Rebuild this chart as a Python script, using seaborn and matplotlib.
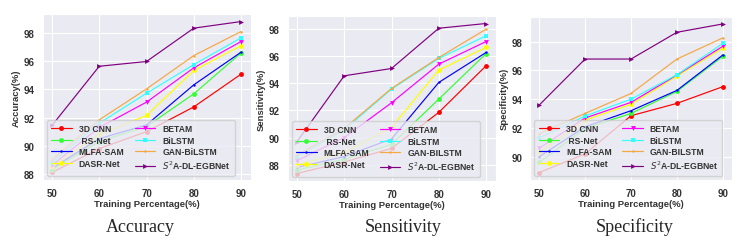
# -*- coding: utf-8 -*-
# Accuracy / Sensitivity / Specificity vs training percentage

import numpy as np
import pandas as pd
import matplotlib
matplotlib.use("Agg")
import matplotlib.pyplot as plt
import seaborn as sns

# ------------------------
# data
# ------------------------
train_pct = [50, 60, 70, 80, 90]

methods = ["3D CNN", " RS-Net", "MLFA-SAM", "DASR-Net",
           "BETAM", "BiLSTM", "GAN-BiLSTM", "$S^2$A-DL-EGBNet"]

accuracy = {
    "3D CNN":          [88.1, 89.8, 91.0, 92.76, 95.09],
    " RS-Net":         [88.3, 90.3, 91.37, 93.69, 96.60],
    "MLFA-SAM":        [88.4, 90.5, 91.48, 94.33, 96.65],
    "DASR-Net":        [88.5, 90.8, 92.15, 95.35, 97.12],
    "BETAM":           [88.6, 91.3, 93.1, 95.54, 97.41],
    "BiLSTM":          [88.8, 91.6, 93.73, 95.77, 97.67],
    "GAN-BiLSTM":      [89.0, 91.84, 94.04, 96.41, 98.12],
    "$S^2$A-DL-EGBNet": [91.44, 95.65, 95.99, 98.36, 98.83],
}

sensitivity = {
    "3D CNN":          [87.35, 88.2, 89.2, 91.86, 95.3],
    " RS-Net":         [87.6, 88.4, 89.5, 92.84, 96.2],
    "MLFA-SAM":        [87.8, 88.6, 89.9, 94.07, 96.28],
    "DASR-Net":        [88.0, 88.9, 90.75, 94.98, 96.65],
    "BETAM":           [88.3, 90.0, 92.57, 95.42, 97.09],
    "BiLSTM":          [88.6, 90.58, 93.58, 95.84, 97.51],
    "GAN-BiLSTM":      [88.7, 90.68, 93.63, 95.91, 98.0],
    "$S^2$A-DL-EGBNet": [89.7, 94.56, 95.1, 98.07, 98.42],
}

specificity = {
    "3D CNN":          [88.9, 90.2, 92.85, 93.71, 94.87],
    " RS-Net":         [89.6, 91.97, 93.01, 94.54, 96.98],
    "MLFA-SAM":        [90.0, 92.08, 93.2, 94.61, 97.07],
    "DASR-Net":        [90.3, 92.55, 93.64, 95.6, 97.56],
    "BETAM":           [90.6, 92.69, 93.78, 95.68, 97.68],
    "BiLSTM":          [91.3, 92.83, 94.0, 95.70, 97.88],
    "GAN-BiLSTM":      [91.6, 93.01, 94.4, 96.79, 98.26],
    "$S^2$A-DL-EGBNet": [93.59, 96.79, 96.79, 98.65, 99.23],
}

colors = ["#ff0000", "#33ff33", "#0000ff", "#ffff00",
          "#ff00ff", "#33ffff", "#f5a742", "#800080"]
markers = ["o", "o", ".", "o", "v", "s", ".", ">"]

panels = [
    ("Accuracy", "Accuracy(%)", accuracy, "GAN-BiLSTM"),
    ("Sensitivity", "Sensitivity(%)", sensitivity, "GAN-BILSTM"),
    ("Specificity", "Specificity(%)", specificity, "GAN-BILSTM"),
]

# axes boxes in pixels: left, right, top, bottom
boxes = [(42.5, 250.5, 15, 181), (287.5, 495.5, 17, 182), (530, 732, 17.5, 181)]
caption_x = [140, 403, 635]

# ------------------------
# plot
# ------------------------
sns.set_style("darkgrid")
plt.rcParams['font.family'] = ['Liberation Sans', 'DejaVu Sans']

W, H = 752, 253
fig = plt.figure(figsize=(W / 100, H / 100), dpi=100)

for (name, ylabel, data, gan_label), (l, r, t, b), cx in zip(panels, boxes, caption_x):
    ax = fig.add_axes([l / W, 1 - b / H, (r - l) / W, (b - t) / H])
    for m, c, mk in zip(methods, colors, markers):
        lab = gan_label if m == "GAN-BiLSTM" else m
        sns.lineplot(x=train_pct, y=data[m], ax=ax, color=c, marker=mk,
                     markersize=3.5, markeredgewidth=0, linewidth=0.85, label=lab)
    ax.set_xticks([50, 60, 70, 80, 90])
    ax.set_xlabel("Training Percentage(%)", fontsize=6.8, fontweight="bold",
                  color="#333333", labelpad=1)
    ax.set_ylabel(ylabel, fontsize=6.8, fontweight="bold", color="#333333", labelpad=2)
    ax.tick_params(axis="both", labelsize=7, pad=2, colors="#333333")
    for tl in ax.get_xticklabels() + ax.get_yticklabels():
        tl.set_fontweight("bold")
    ax.grid(True, color="white", linewidth=0.8)
    leg = ax.legend(loc="lower left", ncol=2, prop={"weight": "bold", "size": 6.2},
                    handlelength=2.4, columnspacing=1.2, labelspacing=0.3,
                    borderpad=0.5, frameon=True, framealpha=0.8,
                    bbox_to_anchor=(0.0, 0.0))
    for txt in leg.get_texts():
        txt.set_color("#333333")
    fig.text(cx / W, 1 - 227 / H, name, ha="center", va="center",
             fontsize=13, family="Liberation Serif")

fig.savefig("out.png", dpi=100)
